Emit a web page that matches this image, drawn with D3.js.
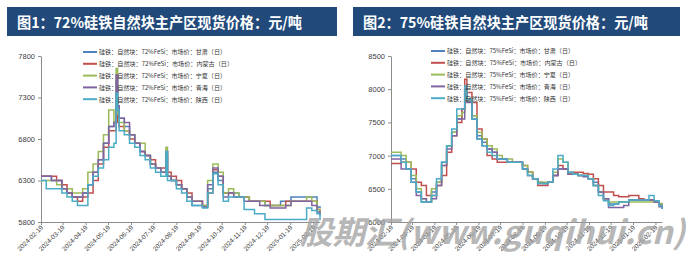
<!DOCTYPE html>
<html>
<head>
<meta charset="utf-8">
<script src="https://cdn.jsdelivr.net/npm/d3@7"></script>
<style>
  body { margin: 0; background: #fff; }
  svg text { font-family: "Noto Sans CJK SC", "Liberation Sans", sans-serif; }
</style>
</head>
<body>
<div id="chart"></div>
<script>
// Regions (series names), shared by both panels
const regions = ["甘肃", "内蒙古", "宁夏", "青海", "陕西"];
const colors = ["#4f81bd", "#c0504d", "#9bbb59", "#8064a2", "#4bacc6"];

const xTickLabels = ["2024-02-19", "2024-03-19", "2024-04-19", "2024-05-19", "2024-06-19", "2024-07-19",
  "2024-08-19", "2024-09-19", "2024-10-19", "2024-11-19", "2024-12-19", "2025-01-19", "2025-02-19"];

// ---- Panel 1: 72% FeSi ----
const datesL = ["2024-02-19", "2024-02-26", "2024-03-04", "2024-03-11", "2024-03-18", "2024-03-25",
  "2024-04-01", "2024-04-08", "2024-04-15", "2024-04-22", "2024-04-29", "2024-05-06", "2024-05-13",
  "2024-05-20", "2024-05-27", "2024-05-30", "2024-06-01", "2024-06-03", "2024-06-10", "2024-06-17",
  "2024-06-24", "2024-07-01", "2024-07-08", "2024-07-15", "2024-07-22", "2024-07-29", "2024-08-05",
  "2024-08-07", "2024-08-12", "2024-08-19", "2024-08-26", "2024-09-02", "2024-09-09", "2024-09-16",
  "2024-09-23", "2024-09-30", "2024-10-07", "2024-10-14", "2024-10-21", "2024-10-28", "2024-11-04",
  "2024-11-11", "2024-11-18", "2024-11-25", "2024-12-02", "2024-12-09", "2024-12-16", "2024-12-23",
  "2024-12-30", "2025-01-06", "2025-01-13", "2025-01-20", "2025-01-27", "2025-02-03", "2025-02-10",
  "2025-02-17", "2025-02-24", "2025-02-28"];
const gansu72 = [6350, 6350, 6300, 6300, 6200, 6150, 6100, 6100, 6150, 6250, 6400, 6550, 6750,
  6950, 7000, 7500, 7200, 7050, 6950, 6850, 6750, 6650, 6600, 6500, 6450, 6400, 6650,
  6350, 6300, 6250, 6200, 6100, 6000, 6000, 5980, 6200, 6400, 6300, 6150, 6150, 6150,
  6100, 6100, 6050, 6050, 6050, 6000, 6000, 6000, 6050, 6050, 6100, 6100, 6100, 6100,
  6100, 5980, 5970];
const neimeng72 = [6350, 6350, 6350, 6300, 6250, 6150, 6100, 6050, 6100, 6150, 6300, 6500, 6700,
  6900, 6900, 7100, 7000, 6950, 6900, 6800, 6750, 6650, 6600, 6550, 6450, 6450, 6600,
  6400, 6350, 6300, 6200, 6150, 6050, 6050, 6000, 6150, 6430, 6350, 6150, 6150, 6100,
  6100, 6100, 6050, 6050, 6050, 6050, 6000, 6000, 6000, 6050, 6050, 6050, 6050, 6050,
  6050, 5950, 5920];
const ningxia72 = [6300, 6300, 6300, 6250, 6200, 6200, 6150, 6150, 6200, 6400, 6500, 6650, 6850,
  7150, 7000, 7650, 7100, 7000, 6900, 6850, 6750, 6750, 6600, 6500, 6450, 6400, 6700,
  6350, 6300, 6250, 6200, 6100, 6050, 6050, 6000, 6300, 6500, 6400, 6150, 6200, 6150,
  6100, 6100, 6050, 6050, 6050, 6000, 6000, 6000, 6000, 6000, 6050, 6050, 6050, 6100,
  6050, 5950, 5880];
const qinghai72 = [6350, 6350, 6300, 6300, 6200, 6150, 6100, 6100, 6150, 6250, 6400, 6550, 6750,
  6950, 7000, 7570, 7200, 7050, 7000, 6850, 6750, 6650, 6600, 6500, 6450, 6400, 6650,
  6350, 6300, 6250, 6200, 6100, 6050, 6050, 5980, 6250, 6450, 6350, 6100, 6150, 6100,
  6100, 6050, 6050, 6050, 6000, 6000, 5970, 5970, 5970, 6000, 6050, 6050, 6050, 6050,
  6000, 5920, 5880];
const shaanxi72 = [6300, 6200, 6200, 6200, 6150, 6100, 6050, 6000, 6000, 6250, 6350, 6450, 6550,
  6700, 6750, 7350, 7150, 6900, 6850, 6750, 6700, 6600, 6550, 6450, 6400, 6350, 6650,
  6300, 6300, 6200, 6150, 6050, 6000, 6000, 5970, 6150, 6380, 6250, 6050, 6100, 6100,
  6100, 5950, 5950, 5900, 5900, 5830, 5830, 5830, 5830, 5830, 5830, 5830, 5830, 5970,
  5940, 5900, 5820];
const yTicksL = [5800, 6300, 6800, 7300, 7800];

// ---- Panel 2: 75% FeSi ----
const datesR = ["2024-02-19", "2024-02-26", "2024-03-04", "2024-03-11", "2024-03-18", "2024-03-25",
  "2024-04-01", "2024-04-08", "2024-04-15", "2024-04-22", "2024-04-29", "2024-05-06", "2024-05-13",
  "2024-05-20", "2024-05-27", "2024-05-31", "2024-06-03", "2024-06-10", "2024-06-17", "2024-06-24",
  "2024-07-01", "2024-07-08", "2024-07-15", "2024-07-22", "2024-07-29", "2024-08-05", "2024-08-12",
  "2024-08-19", "2024-08-26", "2024-09-02", "2024-09-09", "2024-09-16", "2024-09-23", "2024-09-30",
  "2024-10-07", "2024-10-14", "2024-10-21", "2024-10-28", "2024-11-04", "2024-11-11", "2024-11-18",
  "2024-11-25", "2024-12-02", "2024-12-09", "2024-12-16", "2024-12-23", "2024-12-30", "2025-01-06",
  "2025-01-13", "2025-01-20", "2025-01-27", "2025-02-03", "2025-02-10", "2025-02-17", "2025-02-24",
  "2025-02-28"];
const gansu75 = [7000, 7000, 6950, 6800, 6650, 6450, 6300, 6300, 6450, 6600, 6900, 7150, 7350,
  7550, 7700, 8000, 7850, 7600, 7300, 7200, 7100, 7050, 6950, 6950, 6900, 6900, 6900,
  6800, 6750, 6650, 6600, 6580, 6600, 6700, 6800, 6800, 6720, 6720, 6700, 6700, 6650,
  6600, 6450, 6350, 6270, 6270, 6300, 6300, 6330, 6330, 6330, 6330, 6330, 6300, 6250,
  6200];
const neimeng75 = [6880, 6880, 6900, 6900, 6800, 6600, 6550, 6400, 6400, 6550, 6700, 7050, 7300,
  7500, 7700, 8150, 7950, 7800, 7400, 7250, 7000, 6950, 6900, 6900, 6900, 6900, 6900,
  6850, 6750, 6650, 6550, 6550, 6600, 6700, 6850, 6800, 6750, 6750, 6750, 6730, 6720,
  6650, 6550, 6450, 6450, 6400, 6380, 6380, 6400, 6400, 6350, 6330, 6330, 6300, 6270,
  6230];
const ningxia75 = [7050, 7050, 7000, 6900, 6700, 6500, 6350, 6300, 6500, 6600, 6850, 7150, 7350,
  7600, 7650, 8000, 7850, 7600, 7350, 7250, 7150, 7100, 7000, 6950, 6950, 6900, 6900,
  6850, 6750, 6650, 6600, 6600, 6600, 6750, 6950, 6900, 6730, 6720, 6700, 6700, 6650,
  6550, 6450, 6350, 6300, 6300, 6300, 6300, 6300, 6300, 6300, 6300, 6300, 6300, 6280,
  6260];
const qinghai75 = [6950, 6950, 6800, 6800, 6600, 6400, 6350, 6300, 6350, 6550, 6850, 7100, 7300,
  7550, 7550, 8000, 7800, 7550, 7250, 7150, 7100, 7050, 6950, 6950, 6900, 6900, 6900,
  6800, 6700, 6650, 6580, 6580, 6600, 6700, 6800, 6800, 6720, 6720, 6700, 6680, 6650,
  6550, 6450, 6350, 6220, 6220, 6220, 6250, 6330, 6330, 6330, 6330, 6330, 6300, 6230,
  6200];
const shaanxi75 = [7000, 7000, 6900, 6800, 6600, 6450, 6300, 6300, 6400, 6650, 6900, 7150, 7400,
  7700, 7700, 8050, 7850, 7550, 7250, 7150, 7050, 7000, 6950, 6950, 6900, 6900, 6900,
  6800, 6700, 6650, 6580, 6580, 6600, 6800, 7000, 6900, 6750, 6720, 6700, 6700, 6650,
  6550, 6400, 6320, 6250, 6270, 6300, 6300, 6330, 6330, 6330, 6330, 6400, 6320, 6250,
  6200];
const yTicksR = [6000, 6500, 7000, 7500, 8000, 8500];

const parseDate = d3.timeParse("%Y-%m-%d");

const svg = d3.select("#chart")
  .append("svg")
  .attr("width", 700)
  .attr("height", 261);

function drawPanel(p) {
  // title bar
  svg.append("rect")
    .attr("x", p.bar[0]).attr("y", 7)
    .attr("width", p.bar[1] - p.bar[0]).attr("height", 29)
    .attr("fill", "#214a7b");
  svg.append("text")
    .attr("x", p.titleX).attr("y", 27.5)
    .attr("fill", "#fff")
    .attr("font-size", 15)
    .attr("font-weight", "bold")
    .attr("textLength", 285)
    .attr("lengthAdjust", "spacingAndGlyphs")
    .text(p.title);

  const x = d3.scaleTime()
    .domain([parseDate("2024-02-19"), parseDate("2025-02-28")])
    .range([p.left, p.right]);
  const y = d3.scaleLinear()
    .domain(d3.extent(p.yTicks))
    .range([222, 56]);

  // y axis
  const gy = svg.append("g")
    .attr("transform", `translate(${p.left},0)`)
    .call(d3.axisLeft(y).tickValues(p.yTicks).tickFormat(d3.format("d"))
      .tickSize(3).tickPadding(3).tickSizeOuter(0));
  gy.select(".domain").attr("stroke", "#8c8c8c");
  gy.selectAll(".tick line").attr("stroke", "#8c8c8c");
  gy.selectAll("text").attr("font-size", 7.5).attr("fill", "#404040")
    .style("font-family", "'Liberation Sans', Arial, sans-serif");

  // x axis
  const gx = svg.append("g")
    .attr("transform", "translate(0,222)")
    .call(d3.axisBottom(x).tickValues(xTickLabels.map(parseDate)).tickSize(3).tickSizeOuter(0)
      .tickFormat(d3.timeFormat("%Y-%m-%d")));
  gx.select(".domain").attr("stroke", "#8c8c8c");
  gx.selectAll(".tick line").attr("stroke", "#8c8c8c");
  gx.selectAll("text")
    .attr("font-size", 6.5)
    .attr("fill", "#404040")
    .style("font-family", "'Liberation Sans', Arial, sans-serif")
    .attr("text-anchor", "end")
    .attr("dx", 0).attr("dy", 0)
    .attr("y", 0)
    .attr("transform", "translate(2,6) rotate(-45)");

  // lines
  const dates = p.dates.map(parseDate);
  const line = d3.line()
    .x((d, i) => x(dates[i]))
    .y(d => y(d))
    .curve(d3.curveStepAfter);

  p.series.forEach((vals, i) => {
    svg.append("path")
      .datum(vals)
      .attr("fill", "none")
      .attr("stroke", colors[i])
      .attr("stroke-width", 1.5)
      .attr("d", line);
  });

  // legend
  const legend = svg.append("g")
    .attr("transform", `translate(${p.legendX},${p.legendY})`);
  const row = legend.selectAll("g")
    .data(regions)
    .join("g")
    .attr("transform", (_, i) => `translate(0,${i * 11.8})`);
  row.append("line")
    .attr("x1", 0).attr("x2", 14)
    .attr("stroke", (_, i) => colors[i])
    .attr("stroke-width", 2);
  row.append("text")
    .attr("x", 16)
    .attr("y", 2.3)
    .attr("font-size", 6.2)
    .attr("fill", "#333")
    .attr("textLength", d => d.length === 3 ? 134 : 127)
    .attr("lengthAdjust", "spacingAndGlyphs")
    .text(d => `硅铁：自然块：${p.grade}FeSi：市场价：${d}（日）`);
}

drawPanel({
  title: "图1：72%硅铁自然块主产区现货价格：元/吨",
  bar: [7, 337], titleX: 17,
  left: 41, right: 320,
  yTicks: yTicksL,
  dates: datesL,
  series: [gansu72, neimeng72, ningxia72, qinghai72, shaanxi72],
  grade: "72%",
  legendX: 83, legendY: 52
});

drawPanel({
  title: "图2：75%硅铁自然块主产区现货价格：元/吨",
  bar: [353, 680], titleX: 363,
  left: 391, right: 662,
  yTicks: yTicksR,
  dates: datesR,
  series: [gansu75, neimeng75, ningxia75, qinghai75, shaanxi75],
  grade: "75%",
  legendX: 431, legendY: 51
});

// watermark
svg.append("text")
  .attr("x", 300).attr("y", 244)
  .attr("font-size", 32)
  .attr("font-weight", "bold")
  .attr("font-style", "italic")
  .attr("fill", "#a3a3a3")
  .attr("fill-opacity", 0.8)
  .attr("textLength", 385)
  .attr("lengthAdjust", "spacingAndGlyphs")
  .text("股期汇(www.guqihui.cn)");
</script>
</body>
</html>
